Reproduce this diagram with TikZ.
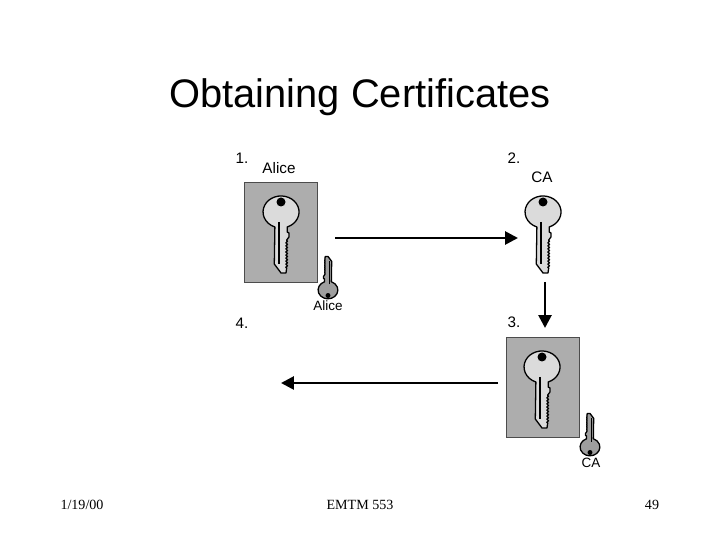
\documentclass[tikz,border=0pt]{standalone}
\usepackage{fontspec}
\setmainfont{Liberation Sans}
\newfontfamily\footfont{Liberation Serif}
\usetikzlibrary{arrows.meta}
\usetikzlibrary{decorations.pathmorphing}
\definecolor{cardgray}{gray}{0.68}
\definecolor{keylight}{gray}{0.86}
\definecolor{keydark}{gray}{0.62}
\tikzset{
	keyline/.style={draw=black, line width=1.1pt, line join=round},
	teeth/.style={decoration={zigzag, amplitude=0.7pt, segment length=2.6pt}},
	groove/.style={line width=1.6pt},
	tiny key/.style={line width=0.5pt, teeth/.style={decoration={zigzag, amplitude=0.2pt, segment length=1.5pt}}, groove/.style={line width=0.9pt}},
	card/.style={draw=black!70, fill=cardgray, line width=0.6pt},
	step arrow/.style={line width=2.3pt, -{Triangle[length=11pt, width=11pt]}},
	lbl/.style={inner sep=0pt, anchor=base, font=\fontsize{13}{15}\selectfont},
	small lbl/.style={inner sep=0pt, anchor=base, font=\fontsize{11.5}{13}\selectfont},
	foot/.style={inner sep=0pt, anchor=base, font=\footfont\fontsize{12}{14}\selectfont},
	key/.pic={
		\path[keyline, pic actions] (6.2,15) arc (70:-250:18 and 16) -- (-6.7,52) -- (0,61) -- (5,61)
			-- (5.7,56) decorate[teeth] {-- (5.7,28)} -- (8,25) -- (8,21) -- (6.2,20) -- cycle;
		\fill[black] (0,-10) circle (4.5);
		\draw[black, groove] (-2,10) -- (-2,52);
	}
}
\begin{document}
\begin{tikzpicture}[x=0.03cm, y=-0.03cm]
	\useasboundingbox (0,0) rectangle (720,540);
	\node[inner sep=0pt, anchor=base, font=\fontsize{34}{38}\selectfont] (title) at (360,108) {Obtaining Certificates};

	\node[card, inner sep=0pt, minimum width=2.19cm, minimum height=3cm] (alicecard) at (280.5,232) {};
	\node[card, inner sep=0pt, minimum width=2.19cm, minimum height=3cm] (cacard) at (542.5,387) {};

	\pic[fill=keylight] at (281,212) {key};
	\pic[fill=keylight] at (543,212) {key};
	\pic[fill=keylight] at (542,367) {key};
	\pic[fill=keydark, rotate=180, scale=0.55, tiny key] at (328,290) {key};
	\pic[fill=keydark, rotate=180, scale=0.55, tiny key] at (590,447) {key};

	\node[lbl] (one) at (242,164) {1.};
	\node[lbl] (two) at (514,164) {2.};
	\node[lbl] (three) at (514,328) {3.};
	\node[lbl] (four) at (242,329) {4.};
	\node[lbl] (alicebig) at (279,174) {Alice};
	\node[small lbl] (alicesmall) at (328,311) {Alice};
	\node[lbl] (cabig) at (542,183) {CA};
	\node[small lbl] (casmall) at (591,467) {CA};

	\coordinate (sendstart) at (335,238);
	\coordinate (sendend) at (518,238);
	\coordinate (signstart) at (545,282);
	\coordinate (signend) at (545,328);
	\coordinate (backstart) at (498,383);
	\coordinate (backend) at (281,383);
	\draw[step arrow] (sendstart) -- (sendend);
	\draw[step arrow] (signstart) -- (signend);
	\draw[step arrow] (backstart) -- (backend);

	\node[foot] (date) at (82,509) {1/19/00};
	\node[foot] (course) at (360,509) {EMTM 553};
	\node[foot] (page) at (652,509) {49};
\end{tikzpicture}
\end{document}
